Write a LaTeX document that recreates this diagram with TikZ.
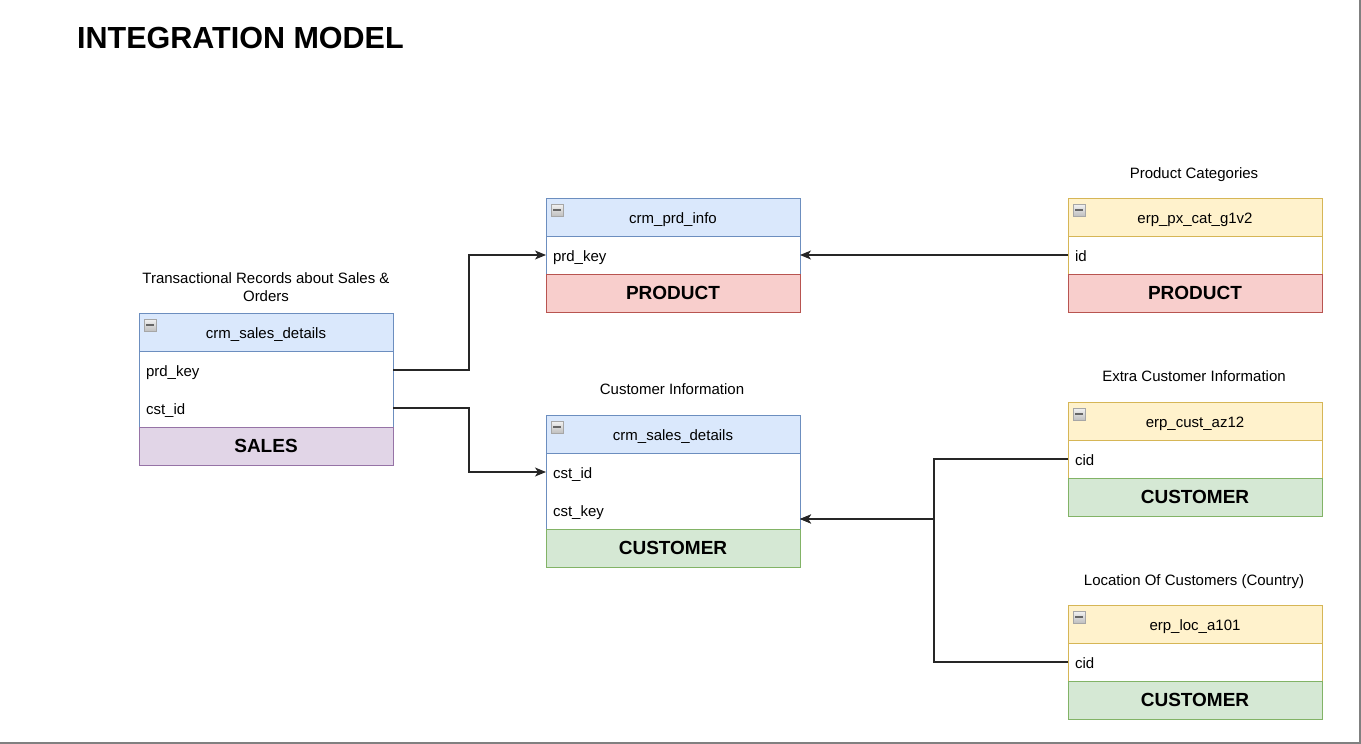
\documentclass[tikz,border=0pt]{standalone}
\usepackage{fontspec}
\setmainfont{Liberation Sans}
\usetikzlibrary{fit,positioning,arrows.meta}
\definecolor{hdblue}{HTML}{DAE8FC}
\definecolor{strblue}{HTML}{6C8EBF}
\definecolor{hdyellow}{HTML}{FFF2CC}
\definecolor{stryellow}{HTML}{D6B656}
\definecolor{ftred}{HTML}{F8CECC}
\definecolor{strred}{HTML}{B85450}
\definecolor{ftgreen}{HTML}{D5E8D4}
\definecolor{strgreen}{HTML}{82B366}
\definecolor{ftpurple}{HTML}{E1D5E7}
\definecolor{strpurple}{HTML}{9673A6}

\begin{document}
\begin{tikzpicture}[x=1pt, y=1pt]
      \tikzstyle{head}=[rectangle, minimum width=254pt, minimum height=38pt, inner sep=0pt, outer sep=0pt, text height=14pt, text depth=1pt, font=\fontsize{15}{17}\selectfont]
      \tikzstyle{bluehead}=[head, draw=strblue, fill=hdblue]
      \tikzstyle{yellowhead}=[head, draw=stryellow, fill=hdyellow]
      \tikzstyle{field}=[rectangle, minimum height=38pt, text width=240pt, inner xsep=7pt, inner ysep=0pt, outer sep=0pt, text height=14pt, text depth=1pt, align=left, font=\fontsize{15}{17}\selectfont]
      \tikzstyle{box}=[rectangle, inner sep=0pt, outer sep=0pt]
      \tikzstyle{foot}=[rectangle, minimum width=254pt, minimum height=38pt, inner sep=0pt, outer sep=0pt, font=\fontsize{19}{21}\selectfont\bfseries]
      \tikzstyle{icon}=[rectangle, minimum size=12pt, inner sep=0pt, draw=gray!70, top color=gray!10, bottom color=gray!50, path picture={\fill[black!60] ([xshift=2pt,yshift=-1pt]path picture bounding box.west) rectangle ([xshift=-2pt,yshift=1pt]path picture bounding box.east);}]
      \tikzstyle{caption}=[anchor=base, align=center, inner sep=0pt, font=\fontsize{15}{18}\selectfont]
      \tikzstyle{connect}=[-{Stealth[length=11pt, width=9pt, inset=3pt]}, line width=1.2pt, black!85]

      \useasboundingbox (0,0) rectangle (1361,-744);
      \draw[gray, line width=2pt] (0,-743) -- (1360,-743) -- (1360,0);

      % title
      \node[anchor=base west, inner sep=0pt, font=\fontsize{30.5}{36}\selectfont\bfseries] (title) at (77,-48) {INTEGRATION MODEL};

      % sales
      \node[caption] (l-sales) at (266,-301) {Transactional Records about Sales \&\\Orders};
      \node[bluehead, anchor=north west] (s-head) at (139,-313) {crm\_sales\_details};
      \node[field, below=0pt of s-head] (s-prd) {prd\_key};
      \node[field, below=0pt of s-prd] (s-cst) {cst\_id};
      \node[box, draw=strblue, fit=(s-head)(s-cst)] (s-box) {};
      \node[foot, fill=ftpurple, draw=strpurple, below=0pt of s-cst] (s-foot) {SALES};
      \node[icon] (s-icon) at ([shift={(11pt,-12pt)}]s-head.north west) {};

      % product
      \node[bluehead, anchor=north west] (p-head) at (546,-198) {crm\_prd\_info};
      \node[field, below=0pt of p-head] (p-key) {prd\_key};
      \node[box, draw=strblue, fit=(p-head)(p-key)] (p-box) {};
      \node[foot, fill=ftred, draw=strred, below=0pt of p-key] (p-foot) {PRODUCT};
      \node[icon] (p-icon) at ([shift={(11pt,-12pt)}]p-head.north west) {};

      % customer
      \node[caption] (l-cust) at (672,-394) {Customer Information};
      \node[bluehead, anchor=north west] (c-head) at (546,-415) {crm\_sales\_details};
      \node[field, below=0pt of c-head] (c-id) {cst\_id};
      \node[field, below=0pt of c-id] (c-key) {cst\_key};
      \node[box, draw=strblue, fit=(c-head)(c-key)] (c-box) {};
      \node[foot, fill=ftgreen, draw=strgreen, below=0pt of c-key] (c-foot) {CUSTOMER};
      \node[icon] (c-icon) at ([shift={(11pt,-12pt)}]c-head.north west) {};
      \coordinate (c-in) at ([yshift=-9pt]c-key.east);

      % erp categories
      \node[caption] (l-cat) at (1194,-178) {Product Categories};
      \node[yellowhead, anchor=north west] (g-head) at (1068,-198) {erp\_px\_cat\_g1v2};
      \node[field, below=0pt of g-head] (g-id) {id};
      \node[box, draw=stryellow, fit=(g-head)(g-id)] (g-box) {};
      \node[foot, fill=ftred, draw=strred, below=0pt of g-id] (g-foot) {PRODUCT};
      \node[icon] (g-icon) at ([shift={(11pt,-12pt)}]g-head.north west) {};

      % erp customer
      \node[caption] (l-az) at (1194,-381) {Extra Customer Information};
      \node[yellowhead, anchor=north west] (a-head) at (1068,-402) {erp\_cust\_az12};
      \node[field, below=0pt of a-head] (a-cid) {cid};
      \node[box, draw=stryellow, fit=(a-head)(a-cid)] (a-box) {};
      \node[foot, fill=ftgreen, draw=strgreen, below=0pt of a-cid] (a-foot) {CUSTOMER};
      \node[icon] (a-icon) at ([shift={(11pt,-12pt)}]a-head.north west) {};

      % erp location
      \node[caption] (l-loc) at (1194,-585) {Location Of Customers (Country)};
      \node[yellowhead, anchor=north west] (o-head) at (1068,-605) {erp\_loc\_a101};
      \node[field, below=0pt of o-head] (o-cid) {cid};
      \node[box, draw=stryellow, fit=(o-head)(o-cid)] (o-box) {};
      \node[foot, fill=ftgreen, draw=strgreen, below=0pt of o-cid] (o-foot) {CUSTOMER};
      \node[icon] (o-icon) at ([shift={(11pt,-12pt)}]o-head.north west) {};

      % links
      \draw[connect] (s-prd.east) -- ++(76,0) |- (p-key.west);
      \draw[connect] (s-cst.east) -- ++(76,0) |- (c-id.west);
      \draw[connect] (g-id.west) -- (p-key.east);
      \draw[connect] (a-cid.west) -- ++(-134,0) |- (c-in);
      \draw[connect] (o-cid.west) -- ++(-134,0) |- (c-in);

\end{tikzpicture}
\end{document}
